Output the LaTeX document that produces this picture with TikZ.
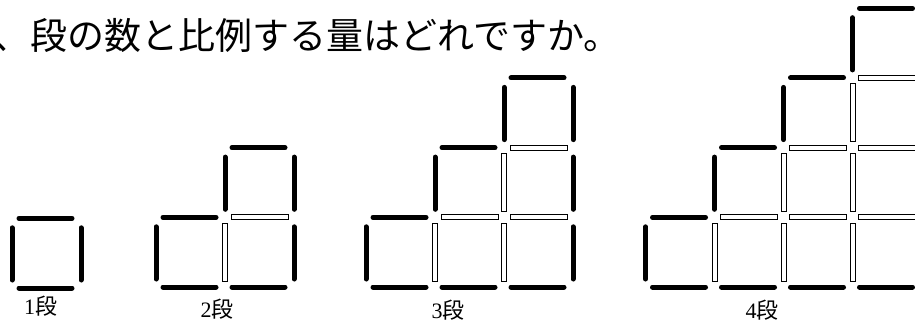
\documentclass[tikz,border=0pt]{standalone}
\usepackage{fontspec}
\setmainfont{Liberation Serif}
\newfontfamily\jp{Noto Sans CJK JP}
\tikzset{
  blkstick/.style={line width=5pt, line cap=round, black},
  whtstick/.style={fill=white, draw=black, line width=0.9pt},
  titletext/.style={anchor=base west, inner sep=0pt, font=\jp\fontsize{37}{37}\selectfont},
  steplabel/.style={anchor=base west, inner sep=0pt, font=\fontsize{22}{22}\selectfont}
}
\def\cx{69}
\def\cy{69.7}
% horizontal sticks: #1 = left corner x, #2 = line y
\newcommand{\hblack}[2]{\draw[blkstick] ({#1+7},#2) -- ({#1+\cx-9},#2);}
\newcommand{\hwhite}[2]{\draw[whtstick] ({#1+6},{#2-2.5}) rectangle ({#1+\cx-6},{#2+2.5});}
% vertical sticks: #1 = line x, #2 = bottom corner y
\newcommand{\vblack}[2]{\draw[blkstick] (#1,{#2-\cy+9.5}) -- (#1,{#2-8});}
\newcommand{\vwhite}[2]{\draw[whtstick] ({#1-2.5},{#2-\cy+6}) rectangle ({#1+2.5},{#2-6});}
% staircase: #1 = n, #2 = left x, #3 = bottom y
\newcommand{\stair}[3]{%
  \foreach \i in {1,...,#1} {%
    \pgfmathtruncatemacro\mytop{\i}%
    \pgfmathsetmacro\xx{#2+(\i-1)*\cx}%
    \foreach \k in {0,...,\mytop} {%
      \pgfmathsetmacro\yy{#3-\k*\cy}%
      \ifnum\k=0 \hblack{\xx}{\yy}\else
        \ifnum\k=\mytop \hblack{\xx}{\yy}\else \hwhite{\xx}{\yy}\fi
      \fi
    }%
  }%
  \foreach \m in {0,...,#1} {%
    \pgfmathtruncatemacro\jmax{min(\m,#1-1)}%
    \pgfmathsetmacro\vx{#2+\m*\cx}%
    \ifdim\vx pt<915pt
    \foreach \j in {0,...,\jmax} {%
      \pgfmathsetmacro\vy{#3-\j*\cy}%
      \ifnum\m=0 \vblack{\vx}{\vy}\else
        \ifnum\m=#1 \vblack{\vx}{\vy}\else
          \ifnum\j=\m \vblack{\vx}{\vy}\else \vwhite{\vx}{\vy}\fi
        \fi
      \fi
    }%
    \fi
  }%
}
\begin{document}
\begin{tikzpicture}[x=1pt,y=-1pt]
\useasboundingbox (0,0) rectangle (915,321);
\node[titletext] (title) at (0,50) {\hspace*{-6.5pt}、段の数と比例する量はどれですか。};
\stair{1}{12}{288}
\stair{2}{156}{287}
\stair{3}{366}{287}
\stair{4}{645.5}{287}
\node[steplabel] (l1) at (24,314.5) {1{\jp 段}};
\node[steplabel] (l2) at (200.5,317.5) {2{\jp 段}};
\node[steplabel] (l3) at (431.5,318) {3{\jp 段}};
\node[steplabel] (l4) at (745.5,318) {4{\jp 段}};
\end{tikzpicture}
\end{document}
